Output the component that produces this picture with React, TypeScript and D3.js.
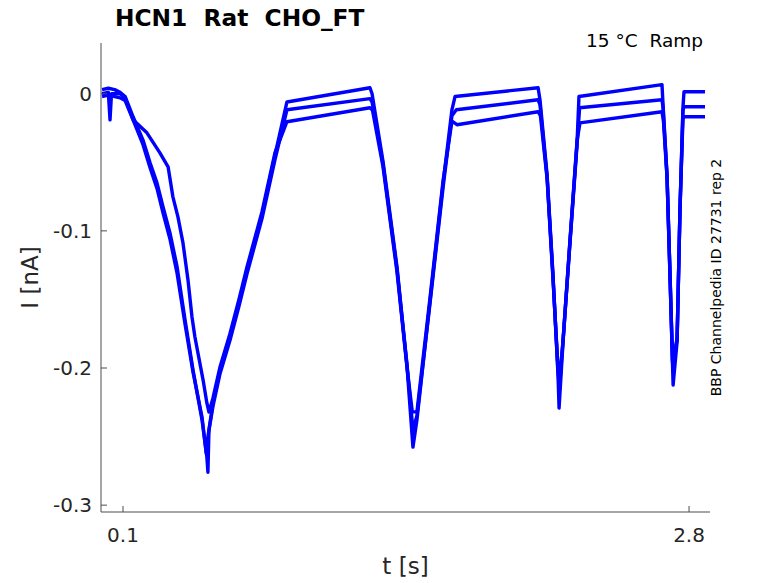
import * as d3 from "d3";

// three sweeps of the ramp protocol, [t (s), I (nA)]
const sweep1: [number, number][] = [
  [0, 0.003], [0.03, 0.004], [0.06, 0.003], [0.086, 0.001], [0.11, -0.002],
  [0.148, -0.0168], [0.195, -0.0336], [0.229, -0.0504], [0.262, -0.065], [0.291, -0.0825],
  [0.324, -0.1015], [0.358, -0.1263], [0.396, -0.165], [0.434, -0.2015], [0.477, -0.238],
  [0.5, -0.265], [0.505, -0.276], [0.51, -0.245], [0.529, -0.2255], [0.563, -0.2015],
  [0.61, -0.1774], [0.653, -0.1526], [0.692, -0.1285], [0.763, -0.0883], [0.825, -0.0445],
  [0.882, -0.006], [1.278, 0.0044], [1.288, 0.0], [1.34, -0.049], [1.407, -0.1263],
  [1.455, -0.1993], [1.483, -0.2577], [1.502, -0.238], [1.565, -0.1504], [1.627, -0.065],
  [1.669, -0.0117], [1.684, -0.002], [2.08, 0.0044], [2.089, -0.0044], [2.123, -0.0591],
  [2.151, -0.1321], [2.175, -0.2051], [2.18, -0.2292], [2.199, -0.181], [2.232, -0.108],
  [2.266, -0.035], [2.275, -0.002], [2.671, 0.0066], [2.676, -0.008], [2.695, -0.0591],
  [2.709, -0.1321], [2.724, -0.2124], [2.743, -0.181], [2.757, -0.0832], [2.771, -0.01],
  [2.776, 0.0015], [2.876, 0.0015],
];

const sweep2: [number, number][] = [
  [0, 0.0], [0.03, 0.001], [0.038, -0.019], [0.045, 0.0], [0.086, 0.0], [0.11, -0.003],
  [0.148, -0.019], [0.195, -0.037], [0.229, -0.054], [0.262, -0.069], [0.291, -0.087],
  [0.324, -0.106], [0.358, -0.131], [0.396, -0.168], [0.434, -0.203], [0.477, -0.236],
  [0.497, -0.262], [0.505, -0.25], [0.529, -0.228], [0.563, -0.204], [0.61, -0.18],
  [0.653, -0.155], [0.692, -0.131], [0.763, -0.091], [0.825, -0.048], [0.882, -0.0117],
  [1.278, -0.0036], [1.288, -0.006], [1.34, -0.051], [1.407, -0.128], [1.455, -0.198],
  [1.483, -0.245], [1.502, -0.235], [1.565, -0.152], [1.627, -0.068], [1.669, -0.016],
  [1.69, -0.0117], [2.08, -0.0044], [2.089, -0.008], [2.123, -0.061], [2.151, -0.133],
  [2.175, -0.203], [2.182, -0.215], [2.199, -0.18], [2.232, -0.109], [2.266, -0.037],
  [2.278, -0.0102], [2.671, -0.0044], [2.676, -0.01], [2.695, -0.06], [2.709, -0.13],
  [2.722, -0.198], [2.743, -0.178], [2.757, -0.085], [2.771, -0.012], [2.776, -0.0095],
  [2.876, -0.0095],
];

const sweep3: [number, number][] = [
  [0, -0.002], [0.03, -0.001], [0.086, -0.003], [0.11, -0.005], [0.148, -0.019],
  [0.214, -0.0285], [0.276, -0.0431], [0.315, -0.0533], [0.338, -0.0752], [0.362, -0.0898],
  [0.386, -0.1088], [0.41, -0.1358], [0.429, -0.1628], [0.443, -0.1774], [0.482, -0.2088],
  [0.5, -0.2255], [0.51, -0.2321], [0.529, -0.222], [0.563, -0.199], [0.61, -0.175],
  [0.653, -0.15], [0.692, -0.126], [0.763, -0.086], [0.825, -0.043], [0.882, -0.0204],
  [1.278, -0.0102], [1.29, -0.012], [1.34, -0.053], [1.407, -0.13], [1.455, -0.2],
  [1.48, -0.232], [1.502, -0.232], [1.565, -0.148], [1.627, -0.063], [1.669, -0.02],
  [1.693, -0.0226], [2.08, -0.0131], [2.091, -0.016], [2.123, -0.062], [2.151, -0.135],
  [2.175, -0.2], [2.181, -0.21], [2.199, -0.18], [2.232, -0.107], [2.266, -0.034],
  [2.28, -0.0212], [2.671, -0.0131], [2.678, -0.02], [2.695, -0.061], [2.709, -0.131],
  [2.721, -0.195], [2.743, -0.18], [2.757, -0.082], [2.771, -0.018], [2.778, -0.0168],
  [2.876, -0.0168],
];

const sweeps = [sweep1, sweep2, sweep3];
const xTicks = [0.1, 2.8];
const yTicks = [0, -0.1, -0.2, -0.3];

const W = 778;
const H = 583;
const L = 101, R = 710, T = 43, B = 512;
const FONT = "DejaVu Sans, sans-serif";
const AX = "#4d4d4d";
const TXT = "#262626";

export default function App() {
  const x = d3.scaleLinear().domain([-0.005, 2.9]).range([L, R]);
  const y = d3.scaleLinear().domain([-0.305, 0.037]).range([B, T]);
  const line = d3.line<[number, number]>().x(d => x(d[0])).y(d => y(d[1]));

  return (
    <svg width={W} height={H} style={{ position: "absolute", left: 0, top: 0, background: "#fff" }} fontFamily={FONT}>
      {sweeps.map((s, i) => (
        <path key={i} d={line(s) ?? ""} fill="none" stroke="#0000ff" strokeWidth={3.4} strokeLinejoin="round" />
      ))}

      {/* axes */}
      <line x1={L} x2={L} y1={T} y2={B} stroke={AX} strokeWidth={1} />
      <line x1={L} x2={R} y1={B} y2={B} stroke={AX} strokeWidth={1} />
      {yTicks.map(v => (
        <g key={v}>
          <line x1={L} x2={L + 6} y1={y(v)} y2={y(v)} stroke={AX} />
          <text x={L - 9} y={y(v)} dy="0.36em" textAnchor="end" fontSize={20} fill={TXT}>
            {v === 0 ? "0" : d3.format(".1f")(v).replace("−", "-")}
          </text>
        </g>
      ))}
      {xTicks.map(v => (
        <g key={v}>
          <line x1={x(v)} x2={x(v)} y1={B} y2={B - 6} stroke={AX} />
          <text x={x(v)} y={542} textAnchor="middle" fontSize={20} fill={TXT}>
            {d3.format(".1f")(v)}
          </text>
        </g>
      ))}

      <text x={(L + R) / 2} y={574} textAnchor="middle" fontSize={23} fill={TXT}>t [s]</text>
      <text transform={`translate(38, ${(T + B) / 2}) rotate(-90)`} textAnchor="middle" fontSize={23} fill={TXT}>I [nA]</text>

      <text x={115} y={26} fontSize={23.3} fontWeight="bold" fill="#000">{"HCN1\u00a0\u00a0Rat\u00a0\u00a0CHO_FT"}</text>
      <text x={703} y={47} textAnchor="end" fontSize={18.5} fill="#000">{"15 °C\u00a0\u00a0Ramp"}</text>
      <text transform={`translate(721, ${(T + B) / 2}) rotate(-90)`} textAnchor="middle" fontSize={14} fill="#000">
        BBP Channelpedia ID 27731 rep 2
      </text>
    </svg>
  );
}
